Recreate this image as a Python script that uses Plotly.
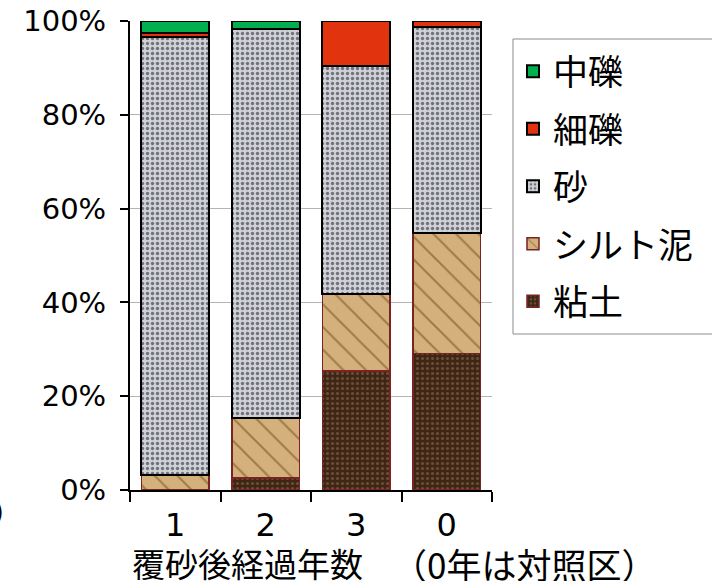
import plotly.graph_objects as go

# Years after sand capping (0 = control plot)
categories = ["1", "2", "3", "0"]

# Particle-size composition (%) for each plot, bottom to top of the stack
clay = [0.0, 2.6, 25.4, 29.1]          # 粘土
silt = [3.2, 12.8, 16.4, 25.8]         # シルト泥
sand = [93.4, 83.0, 48.7, 43.9]        # 砂
fine_gravel = [0.8, 0.0, 9.5, 1.2]     # 細礫
medium_gravel = [2.6, 1.6, 0.0, 0.0]   # 中礫

y_tick_values = [0, 20, 40, 60, 80, 100]
y_tick_labels = ["0%", "20%", "40%", "60%", "80%", "100%"]

NUM_FONT = "DejaVu Sans, Noto Sans CJK JP"
JP_FONT = "Noto Sans CJK JP, DejaVu Sans"

# rank = position in the legend (coarsest fraction listed first)
series = [
    dict(name="粘土", y=clay, fill="#4a2f1c", rank=5,
         pattern=dict(shape=".", fgcolor="#6e4d32", bgcolor="#3e2616", size=5, solidity=0.3),
         line="#7b2222", lw=1.5),
    dict(name="シルト泥", y=silt, fill="#c9a26c", rank=4,
         pattern=dict(shape="\\", fgcolor="#a07a46", bgcolor="#d3b07c", size=16, solidity=0.12),
         line="#7b2222", lw=1.5),
    dict(name="砂", y=sand, fill="#c9cbd0", rank=3,
         pattern=dict(shape=".", fgcolor="#70727a", bgcolor="#cfd1d6", size=5, solidity=0.35),
         line="#000000", lw=2),
    dict(name="細礫", y=fine_gravel, fill="#e2330f", rank=2, pattern=None,
         line="#000000", lw=2),
    dict(name="中礫", y=medium_gravel, fill="#00b04f", rank=1, pattern=None,
         line="#000000", lw=2),
]

fig = go.Figure()
for s in series:
    marker = dict(color=s["fill"], line=dict(color=s["line"], width=s["lw"]))
    if s["pattern"] is not None:
        marker["pattern"] = dict(fillmode="replace", **s["pattern"])
    fig.add_trace(go.Bar(
        x=categories, y=s["y"], name=s["name"], legendgroup=s["name"],
        legendrank=s["rank"], marker=marker,
    ))

fig.update_layout(
    width=712, height=581,
    margin=dict(l=130, r=220, t=21, b=91, autoexpand=False),
    paper_bgcolor="white", plot_bgcolor="white",
    barmode="stack", bargap=0.25,
    font=dict(family=NUM_FONT, color="#000000"),
    showlegend=True,
    legend=dict(
        x=1.058, y=0.955, xanchor="left", yanchor="top",
        traceorder="grouped", tracegroupgap=9,
        font=dict(family=JP_FONT, size=35, color="#000000"),
        borderwidth=0, bgcolor="rgba(0,0,0,0)",
        itemwidth=30,
    ),
)

# legend frame, running off the right edge of the page
fig.add_shape(
    type="rect", xref="paper", yref="paper",
    x0=1.058, x1=1.65, y0=0.3326, y1=0.9616,
    line=dict(color="#8c8c8c", width=1), fillcolor="rgba(0,0,0,0)",
    layer="below",
)

fig.update_yaxes(
    range=[0, 100], tickmode="array",
    tickvals=y_tick_values, ticktext=y_tick_labels,
    tickfont=dict(family=NUM_FONT, size=29),
    ticklabelstandoff=8,
    showgrid=True, gridcolor="#b4b4b4", gridwidth=1,
    showline=True, linecolor="#000000", linewidth=2,
    ticks="outside", ticklen=8, tickwidth=2, tickcolor="#000000",
    zeroline=False, automargin=False,
)
fig.update_xaxes(
    type="category", tickson="boundaries",
    tickfont=dict(family=NUM_FONT, size=32),
    ticklabelstandoff=6,
    showline=True, linecolor="#000000", linewidth=2,
    ticks="outside", ticklen=10, tickwidth=2, tickcolor="#000000",
    showgrid=False, automargin=False,
)

fig.add_annotation(
    text="覆砂後経過年数",
    xref="paper", yref="paper", x=0.0, y=-0.156,
    xanchor="left", yanchor="middle", showarrow=False,
    font=dict(family=JP_FONT, size=33, color="#000000"),
)
fig.add_annotation(
    text="（0年は対照区）",
    xref="paper", yref="paper", x=0.719, y=-0.156,
    xanchor="left", yanchor="middle", showarrow=False,
    font=dict(family=JP_FONT, size=35, color="#000000"),
)
fig.add_annotation(
    text=")",
    xref="paper", yref="paper", x=-0.342, y=-0.047,
    xanchor="right", yanchor="middle", showarrow=False,
    font=dict(family=NUM_FONT, size=28, color="#000000"),
)

fig.write_html("out.html")
